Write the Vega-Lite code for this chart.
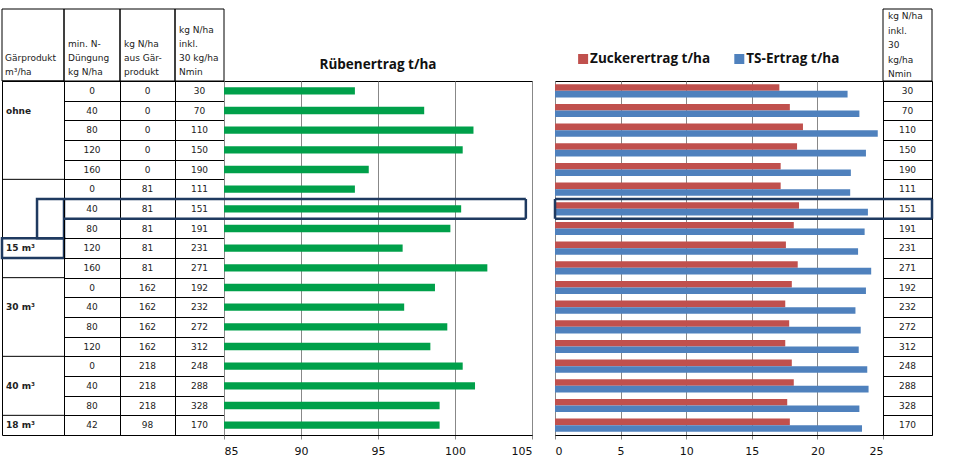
{
  "$schema": "https://vega.github.io/schema/vega-lite/v6.json",
  "padding": {"left": 0, "top": 8, "right": 0, "bottom": 0},
  "background": "white",
  "datasets": {
    "zeilen": [
      {"Zeile": 1, "Gärprodukt": "ohne", "minN": 0, "NGaer": 0, "Ninkl": 30, "Rübenertrag": 93.5, "Zuckerertrag t/ha": 17.1, "TS-Ertrag t/ha": 22.3},
      {"Zeile": 2, "Gärprodukt": "ohne", "minN": 40, "NGaer": 0, "Ninkl": 70, "Rübenertrag": 98.0, "Zuckerertrag t/ha": 17.9, "TS-Ertrag t/ha": 23.2},
      {"Zeile": 3, "Gärprodukt": "ohne", "minN": 80, "NGaer": 0, "Ninkl": 110, "Rübenertrag": 101.2, "Zuckerertrag t/ha": 18.9, "TS-Ertrag t/ha": 24.6},
      {"Zeile": 4, "Gärprodukt": "ohne", "minN": 120, "NGaer": 0, "Ninkl": 150, "Rübenertrag": 100.5, "Zuckerertrag t/ha": 18.45, "TS-Ertrag t/ha": 23.7},
      {"Zeile": 5, "Gärprodukt": "ohne", "minN": 160, "NGaer": 0, "Ninkl": 190, "Rübenertrag": 94.4, "Zuckerertrag t/ha": 17.2, "TS-Ertrag t/ha": 22.55},
      {"Zeile": 6, "Gärprodukt": "15 m³", "minN": 0, "NGaer": 81, "Ninkl": 111, "Rübenertrag": 93.5, "Zuckerertrag t/ha": 17.2, "TS-Ertrag t/ha": 22.5},
      {"Zeile": 7, "Gärprodukt": "15 m³", "minN": 40, "NGaer": 81, "Ninkl": 151, "Rübenertrag": 100.4, "Zuckerertrag t/ha": 18.6, "TS-Ertrag t/ha": 23.85},
      {"Zeile": 8, "Gärprodukt": "15 m³", "minN": 80, "NGaer": 81, "Ninkl": 191, "Rübenertrag": 99.7, "Zuckerertrag t/ha": 18.2, "TS-Ertrag t/ha": 23.6},
      {"Zeile": 9, "Gärprodukt": "15 m³", "minN": 120, "NGaer": 81, "Ninkl": 231, "Rübenertrag": 96.6, "Zuckerertrag t/ha": 17.6, "TS-Ertrag t/ha": 23.1},
      {"Zeile": 10, "Gärprodukt": "15 m³", "minN": 160, "NGaer": 81, "Ninkl": 271, "Rübenertrag": 102.1, "Zuckerertrag t/ha": 18.5, "TS-Ertrag t/ha": 24.1},
      {"Zeile": 11, "Gärprodukt": "30 m³", "minN": 0, "NGaer": 162, "Ninkl": 192, "Rübenertrag": 98.7, "Zuckerertrag t/ha": 18.05, "TS-Ertrag t/ha": 23.7},
      {"Zeile": 12, "Gärprodukt": "30 m³", "minN": 40, "NGaer": 162, "Ninkl": 232, "Rübenertrag": 96.7, "Zuckerertrag t/ha": 17.55, "TS-Ertrag t/ha": 22.9},
      {"Zeile": 13, "Gärprodukt": "30 m³", "minN": 80, "NGaer": 162, "Ninkl": 272, "Rübenertrag": 99.5, "Zuckerertrag t/ha": 17.85, "TS-Ertrag t/ha": 23.3},
      {"Zeile": 14, "Gärprodukt": "30 m³", "minN": 120, "NGaer": 162, "Ninkl": 312, "Rübenertrag": 98.4, "Zuckerertrag t/ha": 17.55, "TS-Ertrag t/ha": 23.15},
      {"Zeile": 15, "Gärprodukt": "40 m³", "minN": 0, "NGaer": 218, "Ninkl": 248, "Rübenertrag": 100.5, "Zuckerertrag t/ha": 18.05, "TS-Ertrag t/ha": 23.8},
      {"Zeile": 16, "Gärprodukt": "40 m³", "minN": 40, "NGaer": 218, "Ninkl": 288, "Rübenertrag": 101.3, "Zuckerertrag t/ha": 18.2, "TS-Ertrag t/ha": 23.9},
      {"Zeile": 17, "Gärprodukt": "40 m³", "minN": 80, "NGaer": 218, "Ninkl": 328, "Rübenertrag": 99.0, "Zuckerertrag t/ha": 17.7, "TS-Ertrag t/ha": 23.2},
      {"Zeile": 18, "Gärprodukt": "18 m³", "minN": 42, "NGaer": 98, "Ninkl": 170, "Rübenertrag": 99.0, "Zuckerertrag t/ha": 17.9, "TS-Ertrag t/ha": 23.4}
    ],
    "gruppen": [
      {"Gärprodukt": "ohne", "von": 1, "Textzeile": 2},
      {"Gärprodukt": "15 m³", "von": 6, "Textzeile": 9},
      {"Gärprodukt": "30 m³", "von": 11, "Textzeile": 12},
      {"Gärprodukt": "40 m³", "von": 15, "Textzeile": 16},
      {"Gärprodukt": "18 m³", "von": 18, "Textzeile": 18}
    ],
    "markierung": [
      {"Zeile": 7, "Textzeile": 9}
    ],
    "serien": [
      {"Serie": "Zuckerertrag t/ha"},
      {"Serie": "TS-Ertrag t/ha"}
    ]
  },
  "bounds": "flush",
  "align": "each",
  "spacing": 0,
  "columns": 8,
  "concat": [
    {"data": {"values": [{}]}, "mark": {"type": "rect", "fill": "transparent", "stroke": "black", "strokeWidth": 1}, "width": 62, "height": 72},
    {"data": {"values": [{}]}, "mark": {"type": "rect", "fill": "transparent", "stroke": "black", "strokeWidth": 1}, "width": 56, "height": 72},
    {"data": {"values": [{}]}, "mark": {"type": "rect", "fill": "transparent", "stroke": "black", "strokeWidth": 1}, "width": 55, "height": 72},
    {"data": {"values": [{}]}, "mark": {"type": "rect", "fill": "transparent", "stroke": "black", "strokeWidth": 1}, "width": 49, "height": 72},
    {"data": {"values": [{}]}, "mark": {"type": "text", "text": ""}, "width": 308, "height": 72, "view": {"stroke": null}},
    {"data": {"values": [{}]}, "mark": {"type": "text", "text": ""}, "width": 23, "height": 72, "view": {"stroke": null}},
    {
      "width": 328,
      "height": 72,
      "view": {"stroke": null},
      "data": {"name": "serien"},
      "encoding": {
        "x": {"field": "Serie", "type": "nominal", "sort": ["Zuckerertrag t/ha", "TS-Ertrag t/ha"], "bandPosition": 0.13, "scale": {"type": "band", "paddingInner": 0, "paddingOuter": 0.05}, "axis": null}
      },
      "layer": [
        {
          "mark": {"type": "square", "size": 100, "opacity": 1, "yOffset": 14},
          "encoding": {
            "color": {"field": "Serie", "type": "nominal", "scale": {"domain": ["Zuckerertrag t/ha", "TS-Ertrag t/ha"], "range": ["#C0504D", "#4F81BD"]}, "legend": null}
          }
        },
        {
          "mark": {"type": "text", "align": "left", "dx": 7, "yOffset": 14, "font": "Open Sans", "fontWeight": "bold", "fontSize": 13.5, "color": "#111"},
          "encoding": {"text": {"field": "Serie", "type": "nominal"}}
        }
      ]
    },
    {"data": {"values": [{}]}, "mark": {"type": "rect", "fill": "transparent", "stroke": "black", "strokeWidth": 1}, "width": 49, "height": 72},
    {
      "width": 62,
      "height": 354,
      "title": {"text": ["Gärprodukt", "m³/ha"], "anchor": "start", "frame": "group", "dx": 3, "offset": 4, "fontSize": 9, "fontWeight": "normal", "lineHeight": 14, "color": "#222"},
      "layer": [
        {
          "data": {"name": "gruppen"},
          "mark": {"type": "rule", "color": "black", "strokeWidth": 1},
          "encoding": {
            "y": {"field": "von", "type": "ordinal", "bandPosition": 0, "scale": {"domain": [1,2,3,4,5,6,7,8,9,10,11,12,13,14,15,16,17,18], "paddingInner": 0, "paddingOuter": 0}, "axis": null}
          }
        },
        {
          "data": {"name": "gruppen"},
          "mark": {"type": "text", "align": "left", "fontWeight": "bold", "fontSize": 9, "dx": 4, "color": "#222"},
          "encoding": {
            "x": {"datum": 0, "type": "quantitative", "scale": {"domain": [0, 1]}, "axis": null},
            "y": {"field": "Textzeile", "type": "ordinal"},
            "text": {"field": "Gärprodukt", "type": "nominal"}
          }
        },
        {
          "data": {"name": "markierung"},
          "mark": {"type": "rect", "fill": "transparent", "stroke": "#1F3A60", "strokeWidth": 2.5},
          "encoding": {
            "x": {"datum": 0, "type": "quantitative"},
            "x2": {"datum": 1},
            "y": {"field": "Textzeile", "type": "ordinal"}
          }
        },
        {
          "data": {"name": "markierung"},
          "mark": {"type": "rect", "fill": "transparent", "stroke": "#1F3A60", "strokeWidth": 2.5},
          "encoding": {
            "x": {"datum": 0.565, "type": "quantitative"},
            "x2": {"datum": 1},
            "y": {"field": "Zeile", "type": "ordinal", "bandPosition": 0},
            "y2": {"field": "Textzeile", "bandPosition": 0}
          }
        }
      ]
    },
    {
      "width": 56,
      "height": 354,
      "title": {"text": ["min. N-", "Düngung", "kg N/ha"], "anchor": "start", "frame": "group", "dx": 4, "offset": 4, "fontSize": 9, "fontWeight": "normal", "lineHeight": 14, "color": "#222"},
      "layer": [
        {
          "data": {"name": "zeilen"},
          "mark": {"type": "text", "fontSize": 9, "color": "#222"},
          "encoding": {
            "y": {"field": "Zeile", "type": "ordinal", "scale": {"domain": [1,2,3,4,5,6,7,8,9,10,11,12,13,14,15,16,17,18], "paddingInner": 0, "paddingOuter": 0}, "axis": {"grid": true, "gridColor": "black", "gridOpacity": 1, "gridWidth": 1, "tickBand": "extent", "labels": false, "ticks": false, "domain": false, "title": null}},
            "text": {"field": "minN", "type": "nominal"}
          }
        },
        {
          "data": {"name": "markierung"},
          "mark": {"type": "rule", "color": "#1F3A60", "strokeWidth": 2.5},
          "encoding": {"y": {"field": "Zeile", "type": "ordinal", "bandPosition": 0}}
        },
        {
          "data": {"name": "markierung"},
          "mark": {"type": "rule", "color": "#1F3A60", "strokeWidth": 2.5},
          "encoding": {"y": {"field": "Zeile", "type": "ordinal", "bandPosition": 1}}
        }
      ]
    },
    {
      "width": 55,
      "height": 354,
      "title": {"text": ["kg N/ha", "aus Gär-", "produkt"], "anchor": "start", "frame": "group", "dx": 4, "offset": 4, "fontSize": 9, "fontWeight": "normal", "lineHeight": 14, "color": "#222"},
      "layer": [
        {
          "data": {"name": "zeilen"},
          "mark": {"type": "text", "fontSize": 9, "color": "#222"},
          "encoding": {
            "y": {"field": "Zeile", "type": "ordinal", "scale": {"domain": [1,2,3,4,5,6,7,8,9,10,11,12,13,14,15,16,17,18], "paddingInner": 0, "paddingOuter": 0}, "axis": {"grid": true, "gridColor": "black", "gridOpacity": 1, "gridWidth": 1, "tickBand": "extent", "labels": false, "ticks": false, "domain": false, "title": null}},
            "text": {"field": "NGaer", "type": "nominal"}
          }
        },
        {
          "data": {"name": "markierung"},
          "mark": {"type": "rule", "color": "#1F3A60", "strokeWidth": 2.5},
          "encoding": {"y": {"field": "Zeile", "type": "ordinal", "bandPosition": 0}}
        },
        {
          "data": {"name": "markierung"},
          "mark": {"type": "rule", "color": "#1F3A60", "strokeWidth": 2.5},
          "encoding": {"y": {"field": "Zeile", "type": "ordinal", "bandPosition": 1}}
        }
      ]
    },
    {
      "width": 49,
      "height": 354,
      "title": {"text": ["kg N/ha", "inkl.", "30 kg/ha", "Nmin"], "anchor": "start", "frame": "group", "dx": 4, "offset": 4, "fontSize": 9, "fontWeight": "normal", "lineHeight": 14, "color": "#222"},
      "layer": [
        {
          "data": {"name": "zeilen"},
          "mark": {"type": "text", "fontSize": 9, "color": "#222"},
          "encoding": {
            "y": {"field": "Zeile", "type": "ordinal", "scale": {"domain": [1,2,3,4,5,6,7,8,9,10,11,12,13,14,15,16,17,18], "paddingInner": 0, "paddingOuter": 0}, "axis": {"grid": true, "gridColor": "black", "gridOpacity": 1, "gridWidth": 1, "tickBand": "extent", "labels": false, "ticks": false, "domain": false, "title": null}},
            "text": {"field": "Ninkl", "type": "nominal"}
          }
        },
        {
          "data": {"name": "markierung"},
          "mark": {"type": "rule", "color": "#1F3A60", "strokeWidth": 2.5},
          "encoding": {"y": {"field": "Zeile", "type": "ordinal", "bandPosition": 0}}
        },
        {
          "data": {"name": "markierung"},
          "mark": {"type": "rule", "color": "#1F3A60", "strokeWidth": 2.5},
          "encoding": {"y": {"field": "Zeile", "type": "ordinal", "bandPosition": 1}}
        }
      ]
    },
    {
      "width": 308,
      "height": 354,
      "title": {"text": "Rübenertrag t/ha", "font": "Open Sans", "fontSize": 13.5, "fontWeight": "bold", "offset": 10, "color": "#111"},
      "layer": [
        {
          "data": {"name": "zeilen"},
          "mark": {"type": "bar", "color": "#00A04A", "height": {"band": 0.37}},
          "encoding": {
            "y": {"field": "Zeile", "type": "ordinal", "scale": {"domain": [1,2,3,4,5,6,7,8,9,10,11,12,13,14,15,16,17,18], "paddingInner": 0, "paddingOuter": 0}, "axis": null},
            "x": {"field": "Rübenertrag", "type": "quantitative", "scale": {"domain": [85, 105], "zero": false, "nice": false, "clamp": true}, "axis": {"values": [85, 90, 95, 100, 105], "grid": true, "title": null}},
            "x2": {"datum": 85}
          }
        },
        {
          "data": {"name": "markierung"},
          "mark": {"type": "rule", "color": "#1F3A60", "strokeWidth": 2.5},
          "encoding": {
            "y": {"field": "Zeile", "type": "ordinal", "bandPosition": 0},
            "x": {"datum": 85, "type": "quantitative"},
            "x2": {"datum": 104.6}
          }
        },
        {
          "data": {"name": "markierung"},
          "mark": {"type": "rule", "color": "#1F3A60", "strokeWidth": 2.5},
          "encoding": {
            "y": {"field": "Zeile", "type": "ordinal", "bandPosition": 1},
            "x": {"datum": 85, "type": "quantitative"},
            "x2": {"datum": 104.6}
          }
        },
        {
          "data": {"name": "markierung"},
          "mark": {"type": "rect", "fill": "transparent", "stroke": "#1F3A60", "strokeWidth": 2.5},
          "encoding": {
            "y": {"field": "Zeile", "type": "ordinal"},
            "x": {"datum": 104.6, "type": "quantitative"},
            "x2": {"datum": 104.6}
          }
        }
      ]
    },
    {"data": {"values": [{}]}, "mark": {"type": "text", "text": ""}, "width": 23, "height": 354, "view": {"stroke": null}},
    {
      "width": 328,
      "height": 354,
      "layer": [
        {
          "data": {"name": "zeilen"},
          "transform": [{"fold": ["Zuckerertrag t/ha", "TS-Ertrag t/ha"], "as": ["Serie", "Ertrag"]}],
          "mark": {"type": "bar"},
          "encoding": {
            "y": {"field": "Zeile", "type": "ordinal", "scale": {"domain": [1,2,3,4,5,6,7,8,9,10,11,12,13,14,15,16,17,18], "paddingInner": 0, "paddingOuter": 0}, "axis": null},
            "yOffset": {"field": "Serie", "type": "nominal", "sort": ["Zuckerertrag t/ha", "TS-Ertrag t/ha"], "scale": {"paddingInner": 0, "paddingOuter": 0.5}},
            "x": {"field": "Ertrag", "type": "quantitative", "scale": {"domain": [0, 25], "nice": false}, "axis": {"values": [0, 5, 10, 15, 20, 25], "grid": true, "title": null}},
            "color": {
              "field": "Serie", "type": "nominal",
              "scale": {"domain": ["Zuckerertrag t/ha", "TS-Ertrag t/ha"], "range": ["#C0504D", "#4F81BD"]},
              "legend": null
            }
          }
        },
        {
          "data": {"name": "markierung"},
          "mark": {"type": "rule", "color": "#1F3A60", "strokeWidth": 2.5},
          "encoding": {"y": {"field": "Zeile", "type": "ordinal", "bandPosition": 0}}
        },
        {
          "data": {"name": "markierung"},
          "mark": {"type": "rule", "color": "#1F3A60", "strokeWidth": 2.5},
          "encoding": {"y": {"field": "Zeile", "type": "ordinal", "bandPosition": 1}}
        },
        {
          "data": {"name": "markierung"},
          "mark": {"type": "rect", "fill": "transparent", "stroke": "#1F3A60", "strokeWidth": 2.5},
          "encoding": {
            "y": {"field": "Zeile", "type": "ordinal"},
            "x": {"datum": 0, "type": "quantitative"},
            "x2": {"datum": 0}
          }
        }
      ]
    },
    {
      "width": 49,
      "height": 354,
      "title": {"text": ["kg N/ha", "inkl.", "30", "kg/ha", "Nmin"], "anchor": "start", "frame": "group", "dx": 5, "offset": 2, "fontSize": 9, "fontWeight": "normal", "lineHeight": 14.5, "color": "#222"},
      "layer": [
        {
          "data": {"name": "zeilen"},
          "mark": {"type": "text", "fontSize": 9, "color": "#222"},
          "encoding": {
            "y": {"field": "Zeile", "type": "ordinal", "scale": {"domain": [1,2,3,4,5,6,7,8,9,10,11,12,13,14,15,16,17,18], "paddingInner": 0, "paddingOuter": 0}, "axis": {"grid": true, "gridColor": "black", "gridOpacity": 1, "gridWidth": 1, "tickBand": "extent", "labels": false, "ticks": false, "domain": false, "title": null}},
            "text": {"field": "Ninkl", "type": "nominal"}
          }
        },
        {
          "data": {"name": "markierung"},
          "mark": {"type": "rule", "color": "#1F3A60", "strokeWidth": 2.5},
          "encoding": {"y": {"field": "Zeile", "type": "ordinal", "bandPosition": 0}}
        },
        {
          "data": {"name": "markierung"},
          "mark": {"type": "rule", "color": "#1F3A60", "strokeWidth": 2.5},
          "encoding": {"y": {"field": "Zeile", "type": "ordinal", "bandPosition": 1}}
        },
        {
          "data": {"name": "markierung"},
          "mark": {"type": "rect", "fill": "transparent", "stroke": "#1F3A60", "strokeWidth": 2.5},
          "encoding": {
            "y": {"field": "Zeile", "type": "ordinal"},
            "x": {"datum": 1, "type": "quantitative", "scale": {"domain": [0, 1]}, "axis": null},
            "x2": {"datum": 1}
          }
        }
      ]
    }
  ],
  "config": {
    "font": "DejaVu Sans",
    "view": {"stroke": "black", "strokeWidth": 1},
    "axisX": {"labelFontSize": 11, "labelColor": "#111", "labelFont": "DejaVu Sans", "tickColor": "#888", "tickSize": 4, "labelPadding": 6, "domainColor": "black", "gridColor": "#888", "gridOpacity": 1}
  }
}
